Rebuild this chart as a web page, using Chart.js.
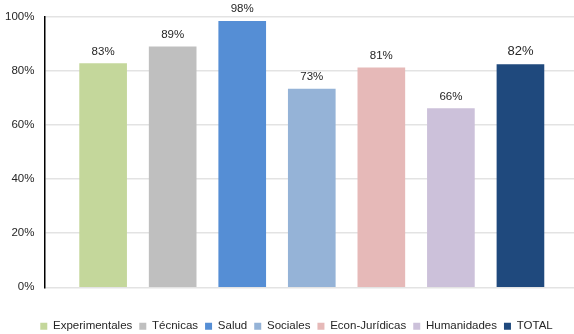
<!DOCTYPE html>
<html><head><meta charset="utf-8">
<script src="https://cdn.jsdelivr.net/npm/chart.js@4"></script>
<style>html,body{margin:0;padding:0;background:#fff}#w{width:574px;height:334px}</style>
</head><body><div id="w"><canvas id="c"></canvas></div>
<script>
const categories = ["Experimentales","Técnicas","Salud","Sociales","Econ-Jurídicas","Humanidades","TOTAL"];
const values = [82.7, 88.9, 98.4, 73.3, 81.2, 66.1, 82.4];
const valueLabels = ["83%","89%","98%","73%","81%","66%","82%"];
const colors = ["#c4d79b","#bfbfbf","#558ed5","#95b3d7","#e6b9b8","#ccc1da","#1f497d"];
const yTicks = [0,20,40,60,80,100];

const datasets = categories.map((name,i)=>({
  label: name,
  data: [{x:i, y: values[i]}],
  backgroundColor: colors[i],
  borderWidth: 0,
  barThickness: 47,
  grouped: false
}));

const labelPlugin = {
  id:'vlabels',
  afterDatasetsDraw(chart){
    const ctx = chart.ctx;
    ctx.save();
    ctx.textAlign='center'; ctx.textBaseline='middle';
    chart.data.datasets.forEach((ds,i)=>{
      const el = chart.getDatasetMeta(i).data[0];
      const last = i === categories.length-1;
      ctx.font = (last? '13px':'11.5px') + ' "Liberation Sans", Arial, sans-serif';
      ctx.fillStyle = '#262626';
      ctx.fillText(valueLabels[i], el.x, el.y - (last?13:12));
    });
    ctx.restore();
  }
};

const legendShift = {
  id:'legendShift',
  afterLayout(chart){
    if (chart.legend) { chart.legend.left += 12; chart.legend.right += 12; }
  }
};

new Chart(document.getElementById('c'), {
  type:'bar',
  data:{datasets},
  plugins:[labelPlugin, legendShift],
  options:{
    responsive:true, maintainAspectRatio:false, animation:false,
    layout:{padding:{left:-5,top:11,right:0,bottom:-8}},
    scales:{
      x:{type:'linear', min:-0.844, max:6.77, offset:false, display:false},
      y:{min:0,max:100,
        afterBuildTicks(s){ s.ticks = yTicks.map(v=>({value:v})); },
        ticks:{callback:v=>v+'%', color:'#262626', padding:10, font:{family:'"Liberation Sans", Arial, sans-serif', size:11.5}},
        grid:{color:'#e3e3e3', lineWidth:1.5, drawTicks:false},
        border:{color:'#000', width:1.5}
      }
    },
    plugins:{
      tooltip:{enabled:false},
      legend:{position:'bottom',
        title:{display:true, text:' ', font:{size:1}, padding:{top:0,bottom:25}},
        labels:{boxWidth:7, boxHeight:7, padding:7, color:'#262626', font:{family:'"Liberation Sans", Arial, sans-serif', size:11.5}}}
    }
  }
});
</script></body></html>
